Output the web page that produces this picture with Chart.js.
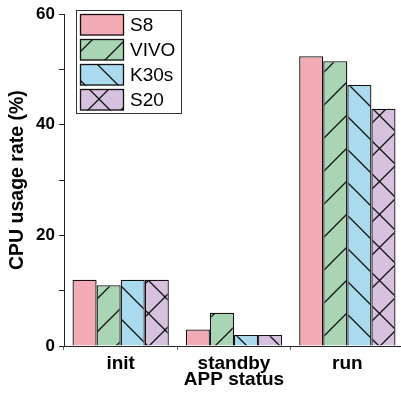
<!DOCTYPE html>
<html>
<head>
<meta charset="utf-8">
<script src="https://cdn.jsdelivr.net/npm/chart.js@4/dist/chart.umd.min.js"></script>
<style>
  html, body { margin: 0; padding: 0; background: #fff; overflow: hidden; }
  #wrap { width: 401px; height: 393px; overflow: hidden; }
</style>
</head>
<body>
<div id="wrap"><canvas id="cpuChart" width="404" height="393"></canvas></div>
<script>
"use strict";

// chart values
const categories = ['init', 'standby', 'run'];
const seriesNames = ['S8', 'VIVO', 'K30s', 'S20'];
const s8Values = [12, 3, 52.4];
const vivoValues = [11, 6, 51.5];
const k30sValues = [12, 2, 47.2];
const s20Values = [12, 2, 42.9];
const yTickLabels = [0, 20, 40, 60];

const FONT = '"Liberation Sans", Arial, sans-serif';
const fills = ['#f2abb5', '#a9d5b5', '#a9daee', '#d6c1df'];
const hatches = ['none', 'fwd', 'back', 'cross'];

// hatch pattern, lines 45 degrees, spaced ~33px like the picture
let makePattern = function (bg, kind)
{
  const s = 33;
  const c = document.createElement('canvas');
  c.width = s; c.height = s;
  const g = c.getContext('2d');
  g.fillStyle = bg;
  g.fillRect(0, 0, s, s);
  g.strokeStyle = '#111';
  g.lineWidth = 1.3;
  g.beginPath();
  if (kind === 'fwd' || kind === 'cross')
  {
    g.moveTo(0, s); g.lineTo(s, 0);
    g.moveTo(-2, 2); g.lineTo(2, -2);
    g.moveTo(s - 2, s + 2); g.lineTo(s + 2, s - 2);
  }
  if (kind === 'back' || kind === 'cross')
  {
    g.moveTo(0, 0); g.lineTo(s, s);
    g.moveTo(s - 2, -2); g.lineTo(s + 2, 2);
    g.moveTo(-2, s - 2); g.lineTo(2, s + 2);
  }
  g.stroke();
  return g.canvas;
};

const ctx = document.getElementById('cpuChart').getContext('2d');
const patterns = fills.map((f, i) => hatches[i] === 'none' ? f : ctx.createPattern(makePattern(f, hatches[i]), 'repeat'));

const allValues = [s8Values, vivoValues, k30sValues, s20Values];

let datasets = seriesNames.map((name, i) => ({
  label: name,
  data: allValues[i],
  backgroundColor: patterns[i],
  borderColor: '#111',
  borderWidth: 1.3,
  borderSkipped: 'bottom',
  categoryPercentage: 0.85,
  barPercentage: 1.0
}));

// legend drawn inside the plot, boxed, like the original
const boxLegend =
{
  id: 'boxLegend',
  afterDraw(chart)
  {
    const c = chart.ctx;
    c.save();
    c.strokeStyle = '#333';
    c.lineWidth = 1;
    c.fillStyle = '#fff';
    c.fillRect(76.5, 10.5, 105, 103);
    c.strokeRect(76.5, 10.5, 105, 103);
    seriesNames.forEach((name, i) => {
      const y = 14 + i * 25;
      c.fillStyle = patterns[i];
      c.fillRect(80, y, 44, 21.5);
      c.strokeStyle = '#111';
      c.lineWidth = 1.3;
      c.strokeRect(80.5, y + 0.5, 43, 20.5);
      c.fillStyle = '#000';
      c.font = '19px ' + FONT;
      c.textBaseline = 'middle';
      c.textAlign = 'left';
      c.fillText(name, 130, y + 11.5);
    });
    c.restore();
  }
};

let config =
{
  type: 'bar',
  data: { labels: categories, datasets },
  plugins: [boxLegend],
  options:
  {
    responsive: false,
    animation: false,
    layout: { padding: { top: 13, right: 0, left: 0, bottom: 0 } },
    plugins: { legend: { display: false }, tooltip: { enabled: false } },
    scales:
    {
      x:
      {
        afterFit: (scale) => { scale.height = 47; },
        border: { color: '#222', width: 1 },
        grid: { drawOnChartArea: false, drawTicks: true, tickLength: 4, tickColor: '#666', offset: true },
        ticks: { color: '#000', padding: 2, font: { family: FONT, size: 19, weight: 'bold' } },
        title:
        {
          display: true, text: 'APP status', color: '#000',
          padding: { top: 0, bottom: 2 },
          font: { family: FONT, size: 19, weight: 'bold' }
        }
      },
      y:
      {
        min: 0,
        max: 60,
        afterFit: (scale) => { scale.width = 64; },
        border: { color: '#222', width: 1 },
        grid: { drawOnChartArea: false, drawTicks: true, tickLength: 5, tickColor: '#222' },
        ticks:
        {
          stepSize: 10,
          padding: 4,
          color: '#000',
          font: { family: FONT, size: 17, weight: 'bold' },
          callback: function (value) {
            return yTickLabels.includes(value) ? String(value) : '';
          }
        },
        title:
        {
          display: true, text: 'CPU usage rate (%)', color: '#000',
          padding: { top: 6, bottom: 0 },
          font: { family: FONT, size: 19.5, weight: 'bold' }
        }
      }
    }
  }
};

const cpuChart = new Chart(ctx, config);
</script>
</body>
</html>
